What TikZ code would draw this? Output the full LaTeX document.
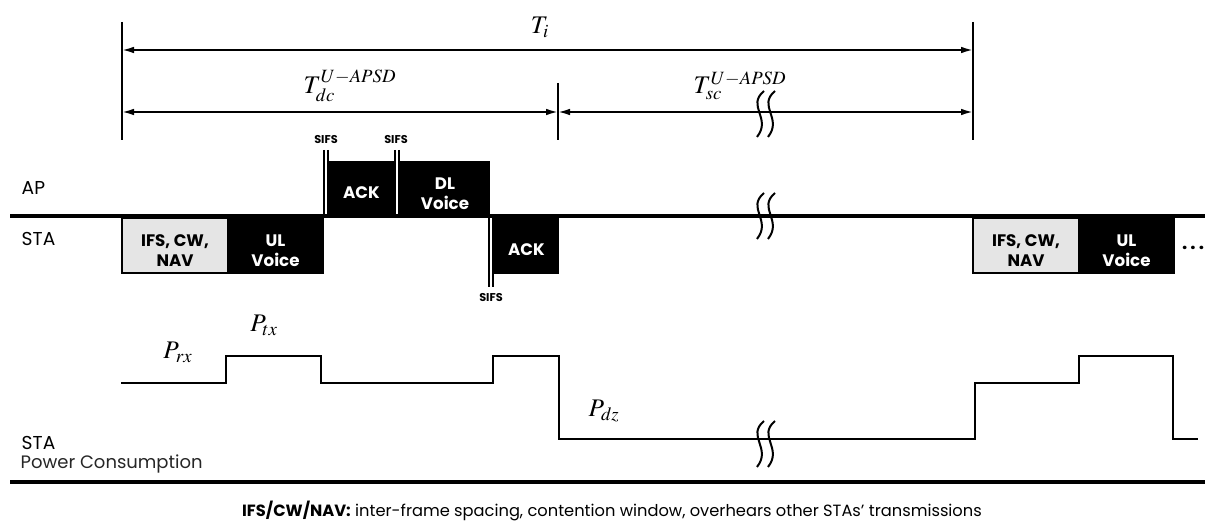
\documentclass[tikz,border=0pt]{standalone}
\usepackage{mathptmx}
\usepackage{fontspec}
\setmainfont{Poppins}
\usetikzlibrary{arrows.meta,fit}
\begin{document}
\begin{tikzpicture}[x=0.75pt,y=-0.75pt,
  dimline/.style={line width=1.4pt},
  dimarrow/.style={line width=1.4pt,{Latex[length=9pt,width=5pt]}-{Latex[length=9pt,width=5pt]}},
  boxfont/.style={font=\fontsize{12.5}{15}\selectfont\bfseries},
  graybox/.style={draw=black,line width=1pt,fill=black!10,inner sep=0pt},
  blackbox/.style={draw=black,line width=1pt,fill=black,inner sep=0pt},
  btext/.style={align=center,boxfont,inner sep=0pt},
  wtext/.style={btext,text=white},
  sifs/.style={font=\fontsize{8.5}{10}\selectfont\bfseries},
  sifsline/.style={line width=1.2pt},
  lbl/.style={font=\fontsize{14}{16}\selectfont},
  mlbl/.style={font=\fontsize{19}{22}\selectfont,inner sep=1pt},
  power/.style={line width=1.8pt,line join=miter},
  timeline/.style={line width=3pt},
  squig/.style={line width=1.5pt}]
\useasboundingbox (0,0) rectangle (1224,531);
% dimension verticals
\coordinate (L0) at (122,22); \coordinate (L1) at (122,140);
\coordinate (R0) at (973,22); \coordinate (R1) at (973,140);
\coordinate (M0) at (558,83); \coordinate (M1) at (558,140);
\draw[dimline] (L0) -- (L1);
\draw[dimline] (R0) -- (R1);
\draw[dimline] (M0) -- (M1);
\coordinate (TiA) at (122,50); \coordinate (TiB) at (973,50);
\draw[dimarrow] (TiA) -- (TiB);
\coordinate (TdA) at (122,112); \coordinate (TdB) at (558,112); \coordinate (TdC) at (973,112);
\draw[dimarrow] (TdA) -- (TdB);
\draw[dimarrow] (TdB) -- (TdC);
\node[mlbl] (Ti) at (540,27) {$T_i$};
\node[mlbl] (Tdc) at (350,86) {$T_{dc}^{U-APSD}$};
\node[mlbl] (Tsc) at (740,86) {$T_{sc}^{U-APSD}$};
% squiggles
\foreach \sx/\sy/\nm in {760/114/sqa, 760/216/sqb, 760/444/sqc}{
  \coordinate (\nm) at (\sx,\sy);
  \draw[squig] ([shift={(4,-23)}]\nm) .. controls ([shift={(-14,-8)}]\nm) and ([shift={(12,4)}]\nm) .. ([shift={(-3,23)}]\nm);
  \draw[squig] ([shift={(15,-23)}]\nm) .. controls ([shift={(-3,-8)}]\nm) and ([shift={(23,4)}]\nm) .. ([shift={(8,23)}]\nm);
}
% timeline
\node[lbl,anchor=west] (AP) at (17,188) {AP};
\node[lbl,anchor=west] (STA) at (17,239) {STA};
\coordinate (T0) at (10,216); \coordinate (T1) at (1205,216);
\draw[timeline] (T0) -- (T1);
% STA boxes
\node[graybox,fit={(122,218)(228,273)}] (ifs1) {};
\node[btext] (ifs1t) at ([shift={(0,5)}]ifs1.center) {IFS, CW,\\NAV};
\node[blackbox,fit={(228,218)(323,273)}] (ul1) {};
\node[wtext] (ul1t) at ([shift={(0,5)}]ul1.center) {UL\\Voice};
% SIFS 1
\coordinate (s1a) at (324,150); \coordinate (s1b) at (324,216);
\coordinate (s1c) at (328,150); \coordinate (s1d) at (328,216);
\draw[sifsline] (s1a) -- (s1b); \draw[sifsline] (s1c) -- (s1d);
\node[sifs] (sifs1) at (326,140) {SIFS};
\node[blackbox,fit={(330,162)(393,215)}] (ack1) {};
\node[wtext] (ack1t) at ([shift={(0,4)}]ack1.center) {ACK};
% SIFS 2
\coordinate (s2a) at (395,150); \coordinate (s2b) at (395,216);
\coordinate (s2c) at (399,150); \coordinate (s2d) at (399,216);
\draw[sifsline] (s2a) -- (s2b); \draw[sifsline] (s2c) -- (s2d);
\node[sifs] (sifs2) at (396,140) {SIFS};
\node[blackbox,fit={(401,162)(489,215)}] (dl) {};
\node[wtext] (dlt) at ([shift={(0,5)}]dl.center) {DL\\Voice};
% SIFS 3
\coordinate (s3a) at (489,216); \coordinate (s3b) at (489,287);
\coordinate (s3c) at (493,216); \coordinate (s3d) at (493,287);
\draw[sifsline] (s3a) -- (s3b); \draw[sifsline] (s3c) -- (s3d);
\node[sifs] (sifs3) at (491,298) {SIFS};
\node[blackbox,fit={(495,218)(558,273)}] (ack2) {};
\node[wtext] (ack2t) at ([shift={(0,4)}]ack2.center) {ACK};
% second cycle
\node[graybox,fit={(973,218)(1079,273)}] (ifs2) {};
\node[btext] (ifs2t) at ([shift={(0,5)}]ifs2.center) {IFS, CW,\\NAV};
\node[blackbox,fit={(1079,218)(1174,273)}] (ul2) {};
\node[wtext] (ul2t) at ([shift={(0,5)}]ul2.center) {UL\\Voice};
\node[font=\fontsize{14}{16}\selectfont\bfseries] (dots) at (1193,248) {.\,.\,.};
% power consumption
\coordinate (p0) at (121,383);
\draw[power] (p0) -- (226,383) -- (226,356) -- (321,356) -- (321,383) -- (493,383) -- (493,356) -- (559,356) -- (559,439) -- (975,439) -- (975,383) -- (1079,383) -- (1079,356) -- (1173,356) -- (1173,439) -- (1198,439);
\node[mlbl] (Prx) at (178,352) {$P_{rx}$};
\node[mlbl] (Ptx) at (264,325) {$P_{tx}$};
\node[mlbl] (Pdz) at (604,411) {$P_{dz}$};
\node[lbl,anchor=west] (STA2) at (17,443) {STA};
\node[font=\fontsize{13.5}{15}\selectfont,text=black!85,anchor=west] (PC) at (16,464) {Power Consumption};
\coordinate (B0) at (10,482); \coordinate (B1) at (1205,482);
\draw[timeline] (B0) -- (B1);
\node[font=\fontsize{12.2}{14}\selectfont] (cap) at (612,511) {\textbf{IFS/CW/NAV:} inter-frame spacing, contention window, overhears other STAs' transmissions};
\end{tikzpicture}
\end{document}
